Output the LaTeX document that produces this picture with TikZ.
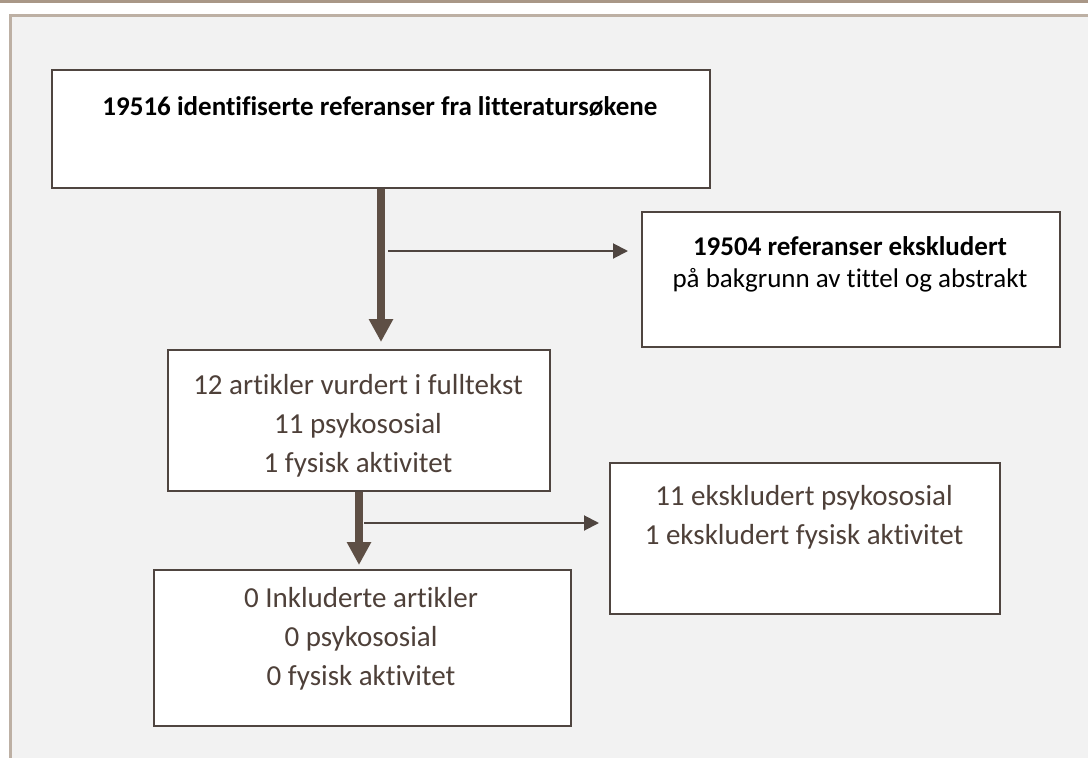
\documentclass[tikz,border=0pt]{standalone}
\usepackage{fontspec}
\setmainfont{Carlito}[Ligatures=NoCommon]
\usetikzlibrary{arrows.meta}
\definecolor{frame}{HTML}{4F4540}
\definecolor{arrowbrown}{HTML}{5E4F45}
\definecolor{txt}{HTML}{4E4039}
\definecolor{panel}{HTML}{F2F2F2}
\definecolor{bartan}{HTML}{A99787}
\definecolor{paneledge}{HTML}{BDB0A4}

\begin{document}
\begin{tikzpicture}[x=1pt,y=-1pt,
  box/.style={draw=frame, line width=2pt, fill=white, anchor=north west, inner sep=0pt},
  boxtext/.style={align=center, text=txt, font=\fontsize{29}{39}\selectfont, inner sep=0pt},
  headtext/.style={align=center, text=black, font=\fontsize{27}{32}\selectfont, inner sep=0pt},
  bigarrow/.style={draw=arrowbrown, line width=8pt, -{Triangle[length=23pt,width=23pt]}},
  thinarrow/.style={draw=frame, line width=2pt, -{Triangle[length=15pt,width=15pt]}}]
\useasboundingbox (0,0) rectangle (1088,758);
% background
\fill[bartan] (0,0) rectangle (1088,3);
\fill[paneledge] (9,14) rectangle (1088,758);
\fill[panel] (11.5,16.5) rectangle (1088,758);

% boxes
\node[box, minimum width=658pt, minimum height=118pt] (b1) at (51,69) {};
\node[box, minimum width=418pt, minimum height=135pt] (b2) at (641,211) {};
\node[box, minimum width=382pt, minimum height=141pt] (b3) at (167,349) {};
\node[box, minimum width=390pt, minimum height=151pt] (b4) at (609,462) {};
\node[box, minimum width=417pt, minimum height=156pt] (b5) at (153,569) {};

% texts
\node[headtext] (t1) at (380,107) {\textbf{19516 identifiserte referanser fra litteratursøkene}};
\node[headtext] (t2) at (850,264) {\textbf{19504 referanser ekskludert}\\ på bakgrunn av tittel og abstrakt};
\node[boxtext] (t3) at (358,426) {12 artikler vurdert i fulltekst\\ 11 psykososial\\ 1 fysisk aktivitet};
\node[boxtext] (t4) at (804,517) {11 ekskludert psykososial\\ 1 ekskludert fysisk aktivitet};
\node[boxtext] (t5) at (361,639) {0 Inkluderte artikler\\ 0 psykososial\\ 0 fysisk aktivitet};

% arrows
\coordinate (s1) at (388,251);
\coordinate (s2) at (364,523);
\draw[bigarrow, shorten >=7pt] (b1.south) -- (b1.south |- b3.north);
\draw[thinarrow, shorten >=13pt] (s1) -- (s1 -| b2.west);
\draw[bigarrow, shorten >=4pt] (b3.south) -- (b3.south |- b5.north);
\draw[thinarrow, shorten >=10pt] (s2) -- (s2 -| b4.west);
\end{tikzpicture}
\end{document}
